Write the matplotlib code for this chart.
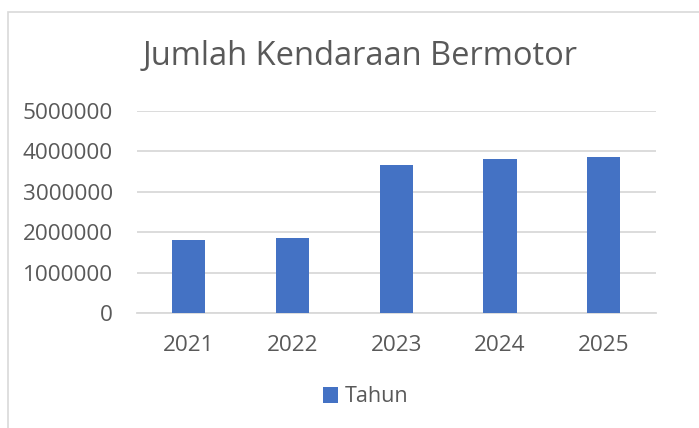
import numpy as np
import matplotlib.pyplot as plt
from matplotlib.patches import Rectangle

years = ['2021', '2022', '2023', '2024', '2025']
values = [1810000, 1850000, 3670000, 3800000, 3860000]
yticks = [0, 1000000, 2000000, 3000000, 4000000, 5000000]

plt.rcParams['font.family'] = ['Open Sans', 'DejaVu Sans']
txt = '#595959'

fig = plt.figure(figsize=(6.99, 4.28), dpi=100)

# chart border like excel
fig.add_artist(Rectangle((8 / 699, -0.05), 1.1, 1 - 12 / 428 + 0.05,
                         transform=fig.transFigure, fill=False,
                         edgecolor='#d9d9d9', linewidth=1.2))

ax = fig.add_axes([136.7 / 699, 1 - 313 / 428, 519 / 699, 202.3 / 428])
x = np.arange(len(years))
ax.bar(x, values, width=0.32, color='#4472C4', zorder=3, label='Tahun')

ax.set_xlim(-0.5, len(years) - 0.5)
ax.set_ylim(0, 5000000)
ax.set_yticks(yticks)
ax.set_yticklabels([str(v) for v in yticks])
ax.set_xticks(x)
ax.set_xticklabels(years)
ax.tick_params(axis='both', length=0, labelsize=16.2, labelcolor=txt)
ax.tick_params(axis='y', pad=17)
ax.tick_params(axis='x', pad=16)
ax.grid(axis='y', color='#d9d9d9', linewidth=1.3, zorder=0)
for s in ['top', 'right', 'left']:
    ax.spines[s].set_visible(False)
ax.spines['bottom'].set_color('#d9d9d9')
ax.spines['bottom'].set_linewidth(1.3)

fig.text(360 / 699, 1 - 57 / 428, 'Jumlah Kendaraan Bermotor', ha='center',
         va='center', fontsize=23.5, color=txt)

fig.legend(loc='center', bbox_to_anchor=(366 / 699, 1 - 397 / 428), frameon=False,
           fontsize=15.5, labelcolor=txt, handlelength=0.7, handleheight=0.7,
           handletextpad=0.3)

fig.savefig('out.png', dpi=100)
